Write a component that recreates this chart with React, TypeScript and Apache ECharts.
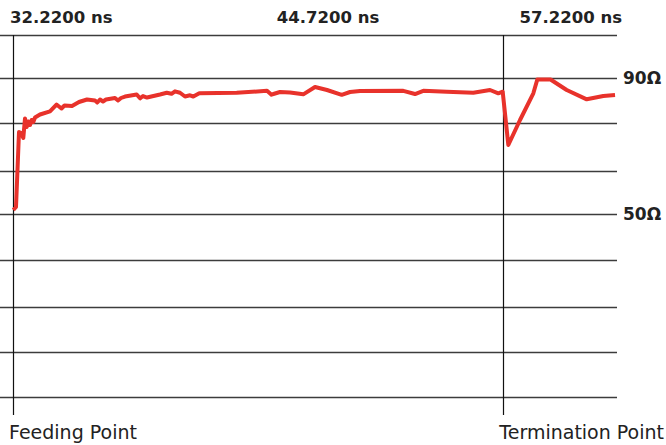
import React, { useEffect, useRef } from "react";
import * as echarts from "echarts";

// Time (ns) and impedance (Ω)
const nsValues = [
  32.22, 32.358, 32.511, 32.628, 32.73, 32.817, 32.904, 32.985, 33.072, 33.159,
  33.24, 33.327, 33.582, 34.092, 34.423, 34.678, 34.831, 35.214, 35.571, 35.979,
  36.387, 36.504, 36.642, 36.795, 36.948, 37.407, 37.56, 37.713, 37.917, 38.514,
  38.682, 38.835, 39.039, 39.702, 40.044, 40.288, 40.467, 40.722, 40.977, 41.232,
  41.4, 41.706, 43.614, 45.159, 45.388, 45.567, 45.822, 46.332, 47.01, 47.607,
  48.219, 48.969, 49.392, 49.902, 52.11, 52.707, 53.13, 54.324, 55.68, 56.532,
  56.955, 57.179, 57.466, 58.062, 58.741, 58.944, 59.617, 60.443, 61.463, 62.31,
  62.907,
];
const ohmValues = [
  51.26, 52.15, 74.21, 73.91, 72.44, 78.18, 75.68, 77.29, 76.26, 77.74,
  77.15, 78.47, 79.35, 80.29, 82.29, 81.12, 82.0, 81.85, 83.03, 83.76,
  83.47, 82.88, 83.76, 83.18, 83.76, 84.21, 83.47, 84.21, 84.65, 85.24,
  84.12, 84.79, 84.35, 85.24, 85.76, 85.44, 86.18, 85.76, 84.65, 85.0,
  84.65, 85.59, 85.76, 86.32, 85.18, 85.53, 85.97, 85.82, 85.29, 87.44,
  86.56, 85.15, 85.97, 86.26, 86.32, 85.38, 86.32, 86.06, 85.76, 86.56,
  85.59, 86.06, 70.38, 77.74, 85.59, 89.65, 89.65, 86.56, 83.82, 84.79,
  85.09,
];

const gridLevels = [102.7, 90, 76.8, 62.7, 50, 36.4, 22.8, 9.3, -3.9];
const labeledLevels = [90, 50];
const markerTimes = [32.22, 57.22];
const headerLabels = ["32.2200 ns", "44.7200 ns", "57.2200 ns"];
const pointLabels = ["Feeding Point", "Termination Point"];

const FONT = "DejaVu Sans, Verdana, sans-serif";

export default function App() {
  const ref = useRef<HTMLDivElement>(null);

  useEffect(() => {
    if (!ref.current) return;
    const chart = echarts.init(ref.current, undefined, { renderer: "svg" });

    const lineData = nsValues.map((t, i) => [t, ohmValues[i]]);

    const hLines = gridLevels.map((v) => {
      const labeled = labeledLevels.includes(v);
      return {
        yAxis: v,
        lineStyle: { color: "#3c3c3c", width: 1.3, type: "solid" },
        label: labeled
          ? {
              show: true,
              position: "end",
              distance: 6,
              formatter: `${v}Ω`,
              color: "#222",
              fontFamily: FONT,
              fontWeight: "bold",
              fontSize: 17,
            }
          : { show: false },
      };
    });
    const vLines = markerTimes.map((t) => ({
      xAxis: t,
      lineStyle: { color: "#111", width: 1.2, type: "solid" },
      label: { show: false },
    }));

    const headerStyle = {
      font: `bold 16.5px ${FONT}`,
      fill: "#222",
      textVerticalAlign: "middle",
    };
    const footerStyle = {
      font: `19px ${FONT}`,
      fill: "#222",
      textVerticalAlign: "middle",
    };

    chart.setOption({
      animation: false,
      backgroundColor: "#fff",
      grid: { left: 0, right: 49, top: 35, bottom: 30 },
      xAxis: {
        type: "value",
        min: 31.542,
        max: 63.008,
        show: false,
        splitLine: { show: false },
      },
      yAxis: {
        type: "value",
        min: -9.03,
        max: 102.74,
        show: false,
        splitLine: { show: false },
      },
      series: [
        {
          type: "line",
          data: [],
          z: 1,
          silent: true,
          markLine: {
            z: 1,
            silent: true,
            animation: false,
            symbol: ["none", "none"],
            data: [...hLines, ...vLines],
          },
        },
        {
          type: "line",
          data: lineData,
          z: 3,
          symbol: "none",
          silent: true,
          lineStyle: { color: "#e8322b", width: 4, join: "round" },
        },
      ],
      graphic: [
        {
          type: "text",
          x: 10,
          y: 17.3,
          style: { ...headerStyle, text: headerLabels[0], textAlign: "left" },
        },
        {
          type: "text",
          x: 328,
          y: 17.3,
          style: { ...headerStyle, text: headerLabels[1], textAlign: "center" },
        },
        {
          type: "text",
          x: 622,
          y: 17.3,
          style: { ...headerStyle, text: headerLabels[2], textAlign: "right" },
        },
        {
          type: "text",
          x: 9,
          y: 432,
          style: { ...footerStyle, text: pointLabels[0], textAlign: "left" },
        },
        {
          type: "text",
          x: 664,
          y: 432,
          style: { ...footerStyle, text: pointLabels[1], textAlign: "right" },
        },
      ],
    });

    return () => chart.dispose();
  }, []);

  return (
    <div
      ref={ref}
      style={{ position: "fixed", left: 0, top: 0, width: 666, height: 445 }}
    />
  );
}
